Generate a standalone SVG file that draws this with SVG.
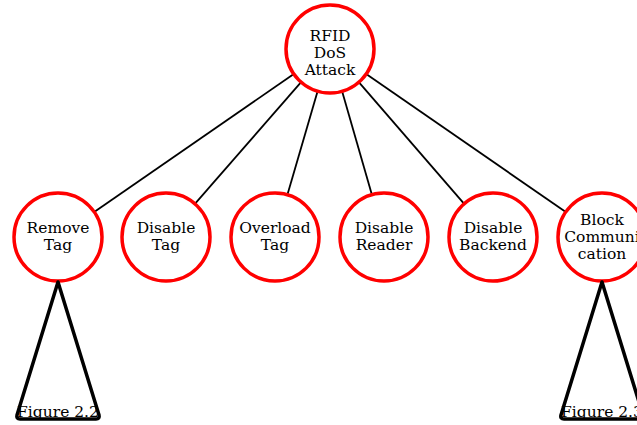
<svg xmlns="http://www.w3.org/2000/svg" width="637" height="425" viewBox="0 0 637 425">
<style>
.node circle{fill:#fff;stroke:#f00;stroke-width:3.5}
text{font-family:"DejaVu Serif","Liberation Serif",serif;font-size:15.5px;fill:#000;text-anchor:middle}
.edges line{stroke:#000;stroke-width:1.8}
.tri{fill:none;stroke:#000;stroke-width:3.5;stroke-linejoin:round}
</style>
<rect width="637" height="425" fill="#fff"/>
<g class="edges" id="connectors">
<line x1="293.8" y1="74" x2="94.2" y2="212"/>
<line x1="301.1" y1="82.2" x2="194.9" y2="203.8"/>
<line x1="317.6" y1="91.2" x2="287.4" y2="194.8"/>
<line x1="342.1" y1="91.3" x2="371.9" y2="194.7"/>
<line x1="358.8" y1="82.2" x2="464.2" y2="203.8"/>
<line x1="366.2" y1="74" x2="565.8" y2="212"/>
</g>
<g id="root" class="node"><circle cx="330" cy="49" r="44"/><text x="330" y="41">RFID</text><text x="330" y="58">DoS</text><text x="330" y="75">Attack</text></g>
<g id="remove" class="node"><circle cx="58" cy="237" r="44"/><text x="58" y="233">Remove</text><text x="58" y="250">Tag</text></g>
<g id="disable-tag" class="node"><circle cx="166" cy="237" r="44"/><text x="166" y="233">Disable</text><text x="166" y="250">Tag</text></g>
<g id="overload" class="node"><circle cx="275" cy="237" r="44"/><text x="275" y="233">Overload</text><text x="275" y="250">Tag</text></g>
<g id="disable-reader" class="node"><circle cx="384" cy="237" r="44"/><text x="384" y="233">Disable</text><text x="384" y="250">Reader</text></g>
<g id="disable-backend" class="node"><circle cx="493" cy="237" r="44"/><text x="493" y="233">Disable</text><text x="493" y="250">Backend</text></g>
<g id="block" class="node"><circle cx="602" cy="237" r="44"/><text x="602" y="225">Block</text><text x="602" y="242">Communi</text><text x="602" y="259">cation</text></g>
<g id="fig22"><path class="tri" d="M58,282 L99,415 Q100,419 96,419 L20,419 Q16,419 17,415 Z"/><text x="58" y="417">Figure 2.2</text></g>
<g id="fig23"><path class="tri" d="M602,282 L643,415 Q644,419 640,419 L564,419 Q560,419 561,415 Z"/><text x="602" y="417">Figure 2.3</text></g>
</svg>
